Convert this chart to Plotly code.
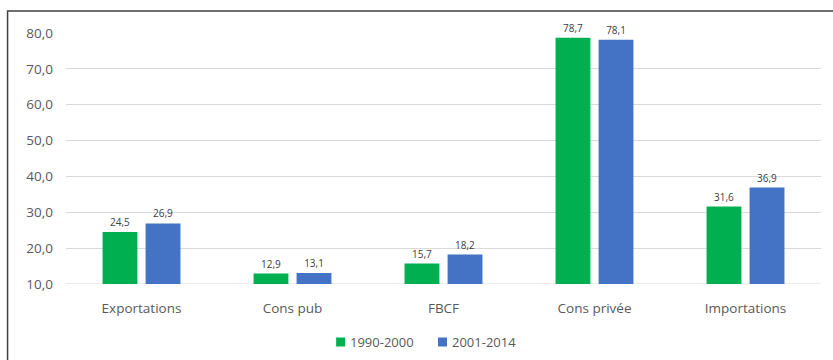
import plotly.graph_objects as go

categories = ["Exportations", "Cons pub", "FBCF", "Cons privée", "Importations"]
serie_1990_2000 = [24.5, 12.9, 15.7, 78.7, 31.6]
serie_2001_2014 = [26.9, 13.1, 18.2, 78.1, 36.9]
series_names = ["1990-2000", "2001-2014"]
y_ticks = [10, 20, 30, 40, 50, 60, 70, 80]

GREEN = "#00B050"
BLUE = "#4472C4"
BASE = 10
TEXT = "#595959"
FONT = "Open Sans"

W, H = 833, 360
ML, MR, MT, MB = 65.5, 11.5, 33, 76
PW = W - ML - MR
PH = H - MT - MB


def px_x(px):
    return (px - ML) / PW


def px_y(py):
    return (MT + PH - py) / PH


def bars(name, values, color):
    return go.Bar(
        name=name,
        x=categories,
        y=[v - BASE for v in values],
        base=BASE,
        customdata=values,
        marker=dict(color=color, line=dict(width=0)),
        texttemplate="%{customdata:.1f}",
        textposition="outside",
        textfont=dict(size=10, color="#404040", family=FONT),
        cliponaxis=False,
        showlegend=False,
        hovertemplate="%{x}: %{customdata:.1f}<extra>" + name + "</extra>",
    )


fig = go.Figure([
    bars(series_names[0], serie_1990_2000, GREEN),
    bars(series_names[1], serie_2001_2014, BLUE),
])

# legend drawn as small squares with labels beside them
legend_items = [(series_names[0], GREEN, 336), (series_names[1], BLUE, 438)]
legend_y = 342
shapes = []
annotations = []
for label, color, x0 in legend_items:
    shapes.append(dict(
        type="rect", xref="paper", yref="paper",
        x0=px_x(x0), x1=px_x(x0 + 9),
        y0=px_y(legend_y + 4.5), y1=px_y(legend_y - 4.5),
        fillcolor=color, line=dict(width=0),
    ))
    annotations.append(dict(
        xref="paper", yref="paper",
        x=px_x(x0 + 12), y=px_y(legend_y),
        xanchor="left", yanchor="middle",
        text=label, showarrow=False,
        font=dict(size=13, color=TEXT, family=FONT),
    ))

# frame around the chart (top and left edges visible)
shapes.append(dict(
    type="rect", xref="paper", yref="paper",
    x0=px_x(7), x1=px_x(W + 20),
    y0=px_y(H + 20), y1=px_y(11),
    line=dict(color="#404040", width=1.5),
    fillcolor="rgba(0,0,0,0)",
    layer="above",
))
# baseline at 10
shapes.append(dict(
    type="line", xref="paper", yref="y",
    x0=0, x1=1, y0=BASE, y1=BASE,
    line=dict(color="#D9D9D9", width=1),
    layer="below",
))

fig.update_layout(
    width=W,
    height=H,
    margin=dict(l=ML, r=MR, t=MT, b=MB, pad=0),
    paper_bgcolor="white",
    plot_bgcolor="white",
    separators=",.",
    barmode="group",
    bargap=0.43,
    bargroupgap=0.19,
    font=dict(family=FONT, color=TEXT, size=13),
    showlegend=False,
    xaxis=dict(
        showgrid=False,
        showline=False,
        ticks="",
        ticklabelstandoff=14,
        tickfont=dict(size=13.5, color=TEXT),
    ),
    yaxis=dict(
        range=[BASE, 80],
        tickvals=y_ticks,
        tickformat=".1f",
        showgrid=True,
        gridcolor="#D9D9D9",
        gridwidth=1,
        zeroline=False,
        showline=False,
        ticks="",
        ticklabelstandoff=12,
        tickfont=dict(size=13.5, color=TEXT),
    ),
    shapes=shapes,
    annotations=annotations,
)

fig.write_html("out.html")
